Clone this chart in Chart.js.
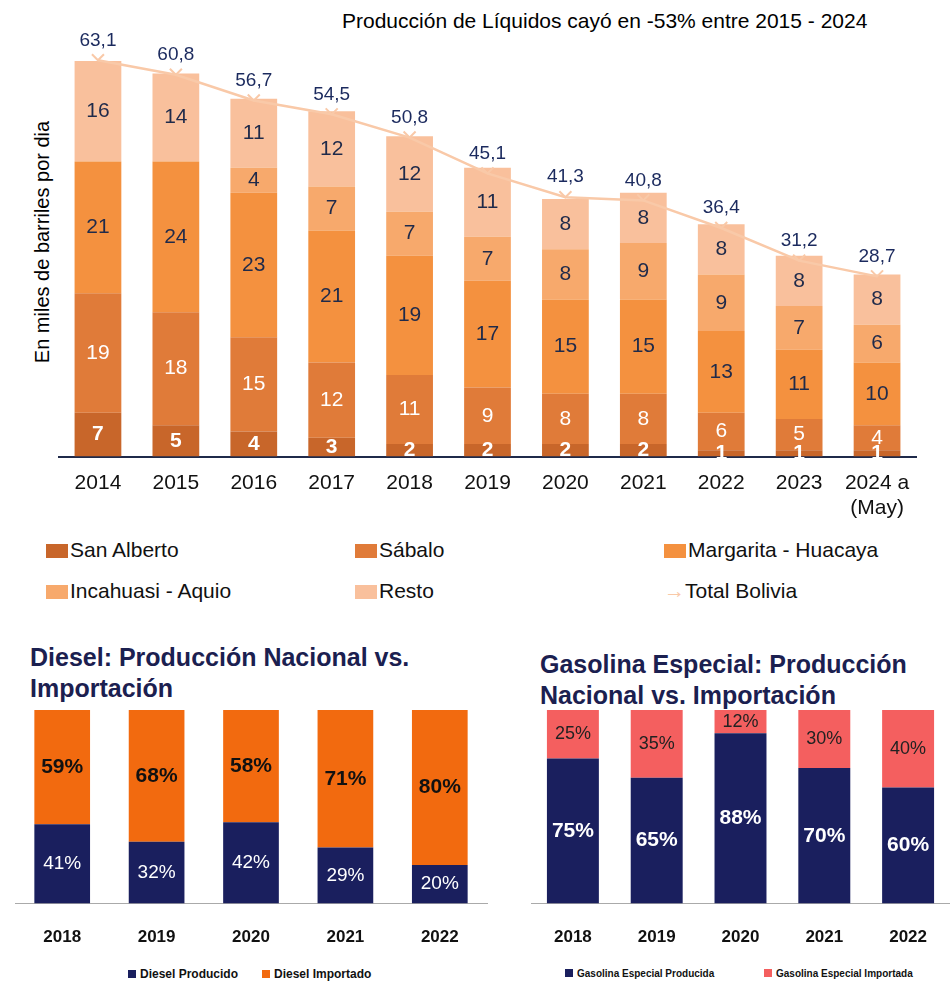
<!DOCTYPE html>
<html><head><meta charset="utf-8">
<script src="https://cdn.jsdelivr.net/npm/chart.js@4"></script>
<style>
body{margin:0;width:950px;height:996px;position:relative;font-family:"Liberation Sans",Arial,sans-serif;background:#fff;overflow:hidden}
canvas{position:absolute}
.t{position:absolute;white-space:nowrap}
.lg{position:absolute;font-size:21px;color:#111}
.lg i{display:inline-block;width:22px;height:14px;margin-right:2px;vertical-align:-1px}
.ttl{position:absolute;font-weight:bold;font-size:25px;color:#1b2050;line-height:31px}
.sl{position:absolute;font-size:11px;font-weight:bold;color:#111}
.sl i{display:inline-block;width:8px;height:8px;margin-right:4px}
</style></head><body>
<div class="t" style="left:342px;top:9px;font-size:21px">Producción de Líquidos cayó en -53% entre 2015 - 2024</div>
<div class="t" style="left:42px;top:242px;font-size:20px;transform:translate(-50%,-50%) rotate(-90deg)">En miles de barriles por dia</div>
<canvas id="c1" width="950" height="527" style="left:0;top:0"></canvas>
<div class="lg" style="left:46px;top:538px"><i style="background:#c8662a"></i>San Alberto</div>
<div class="lg" style="left:355px;top:538px"><i style="background:#e07b39"></i>Sábalo</div>
<div class="lg" style="left:664px;top:538px"><i style="background:#f4913f"></i>Margarita - Huacaya</div>
<div class="lg" style="left:46px;top:579px"><i style="background:#f7a96c"></i>Incahuasi - Aquio</div>
<div class="lg" style="left:355px;top:579px"><i style="background:#f9c09c"></i>Resto</div>
<div class="lg" style="left:664px;top:579px"><span style="color:#f9c9a8">→</span>Total Bolivia</div>
<div class="ttl" style="left:30px;top:642px">Diesel: Producción Nacional vs.<br>Importación</div>
<div class="ttl" style="left:540px;top:649px">Gasolina Especial: Producción<br>Nacional vs. Importación</div>
<canvas id="c2" width="490" height="264" style="left:0;top:700px"></canvas>
<canvas id="c3" width="470" height="264" style="left:480px;top:700px"></canvas>
<div class="sl" style="left:128px;top:967px;font-size:12px"><i style="background:#1a1f5e"></i>Diesel Producido</div>
<div class="sl" style="left:262px;top:967px;font-size:12px"><i style="background:#f26a0f"></i>Diesel Importado</div>
<div class="sl" style="left:565px;top:968px;font-size:10px"><i style="background:#1a1f5e"></i>Gasolina Especial Producida</div>
<div class="sl" style="left:764px;top:968px;font-size:10px"><i style="background:#f45f5f"></i>Gasolina Especial Importada</div>
<script>
const years = ['2014','2015','2016','2017','2018','2019','2020','2021','2022','2023',['2024 a','(May)']];
const sanAlberto = [7,5,4,3,2,2,2,2,1,1,1];
const sabalo = [19,18,15,12,11,9,8,8,6,5,4];
const margarita = [21,24,23,21,19,17,15,15,13,11,10];
const incahuasi = [0,0,4,7,7,7,8,9,9,7,6];
const resto = [16,14,11,12,12,11,8,8,8,8,8];
const totalBolivia = [63.1,60.8,56.7,54.5,50.8,45.1,41.3,40.8,36.4,31.2,28.7];

const yrs2 = ['2018','2019','2020','2021','2022'];
const dieselProd = [41,32,42,29,20];
const dieselImp = [59,68,58,71,80];
const gasProd = [75,65,88,70,60];
const gasImp = [25,35,12,30,40];

const labelPlugin = {
  id: 'lbl',
  afterDatasetsDraw(chart) {
    const ctx = chart.ctx;
    chart.data.datasets.forEach((ds, i) => {
      if (!ds.lbl) return;
      const meta = chart.getDatasetMeta(i);
      meta.data.forEach((el, j) => {
        const v = ds.data[j]; if (!v) return;
        ctx.save();
        ctx.font = ds.lbl.font; ctx.fillStyle = ds.lbl.color;
        ctx.textAlign = 'center'; ctx.textBaseline = 'middle';
        const txt = ds.lbl.fmt ? ds.lbl.fmt(v) : String(v);
        let y = ds.type === 'line' ? el.y - 20 : (el.y + el.base) / 2;
        if (ds.type === 'line') {
          // arrowhead
          ctx.strokeStyle = ds.borderColor; ctx.lineWidth = 2;
          ctx.beginPath(); ctx.moveTo(el.x - 6, el.y - 6); ctx.lineTo(el.x, el.y); ctx.lineTo(el.x + 6, el.y - 6); ctx.stroke();
        }
        ctx.fillText(txt, el.x, y);
        ctx.restore();
      });
    });
  }
};

const dk = {color:'#1f2a4a', font:'21px "Liberation Sans", Arial'};
const wh = {color:'#fff', font:'21px "Liberation Sans", Arial'};
new Chart(document.getElementById('c1'), {
  data: { labels: years, datasets: [
    {type:'line', label:'Total Bolivia', data: totalBolivia, borderColor:'#f9c9a8', borderWidth:2.5, pointRadius:0, order:0,
      lbl:{color:'#1b2a5e', font:'19px "Liberation Sans", Arial', fmt:v => v.toFixed(1).replace('.', ',')}},
    {type:'bar', label:'San Alberto', data: sanAlberto, backgroundColor:'#c8662a', lbl:{color:'#fff', font:'bold 21px "Liberation Sans", Arial'}, order:1},
    {type:'bar', label:'Sábalo', data: sabalo, backgroundColor:'#e07b39', lbl:wh, order:1},
    {type:'bar', label:'Margarita - Huacaya', data: margarita, backgroundColor:'#f4913f', lbl:dk, order:1},
    {type:'bar', label:'Incahuasi - Aquio', data: incahuasi, backgroundColor:'#f7a96c', lbl:dk, order:1},
    {type:'bar', label:'Resto', data: resto, backgroundColor:'#f9c09c', lbl:dk, order:1}
  ]},
  options: { responsive:false, animation:false,
    layout:{padding:{left:59, right:34, top:17}},
    datasets:{bar:{barPercentage:0.6, categoryPercentage:1}},
    plugins:{legend:{display:false}, tooltip:{enabled:false}},
    scales:{
      x:{stacked:true, grid:{display:false}, border:{color:'#1f2a4a', width:2},
        ticks:{color:'#111', font:{size:21, family:'"Liberation Sans", Arial'}, padding:6, maxRotation:0}},
      y:{stacked:true, display:false, min:0, max:70}
    }},
  plugins:[labelPlugin]
});

function pctChart(id, labels, prod, imp, cProd, cImp, lp, lpImp, pad, bp) {
  new Chart(document.getElementById(id), {
    type:'bar',
    data:{labels, datasets:[
      {label:'P', data:prod, backgroundColor:cProd, lbl:lp},
      {label:'I', data:imp, backgroundColor:cImp, lbl:lpImp}
    ]},
    options:{responsive:false, animation:false,
      layout:{padding:pad},
      datasets:{bar:{barPercentage:bp, categoryPercentage:1}},
      plugins:{legend:{display:false}, tooltip:{enabled:false}},
      scales:{
        x:{stacked:true, grid:{display:false}, border:{color:'#aaa', width:1},
          ticks:{color:'#111', font:{size:17, weight:'bold', family:'"Liberation Sans", Arial'}, padding:16}},
        y:{stacked:true, display:false, min:0, max:100}
      }},
    plugins:[labelPlugin]
  });
}
const pf = v => v + '%';
pctChart('c2', yrs2, dieselProd, dieselImp, '#1a1f5e', '#f26a0f',
  {color:'#fff', font:'19px "Liberation Sans", Arial', fmt:pf},
  {color:'#111', font:'bold 21px "Liberation Sans", Arial', fmt:pf},
  {left:15, right:3, top:10}, 0.59);
pctChart('c3', yrs2, gasProd, gasImp, '#1a1f5e', '#f45f5f',
  {color:'#fff', font:'bold 21px "Liberation Sans", Arial', fmt:pf},
  {color:'#222', font:'18px "Liberation Sans", Arial', fmt:pf},
  {left:51, right:0, top:10}, 0.62);
</script>
</body></html>
